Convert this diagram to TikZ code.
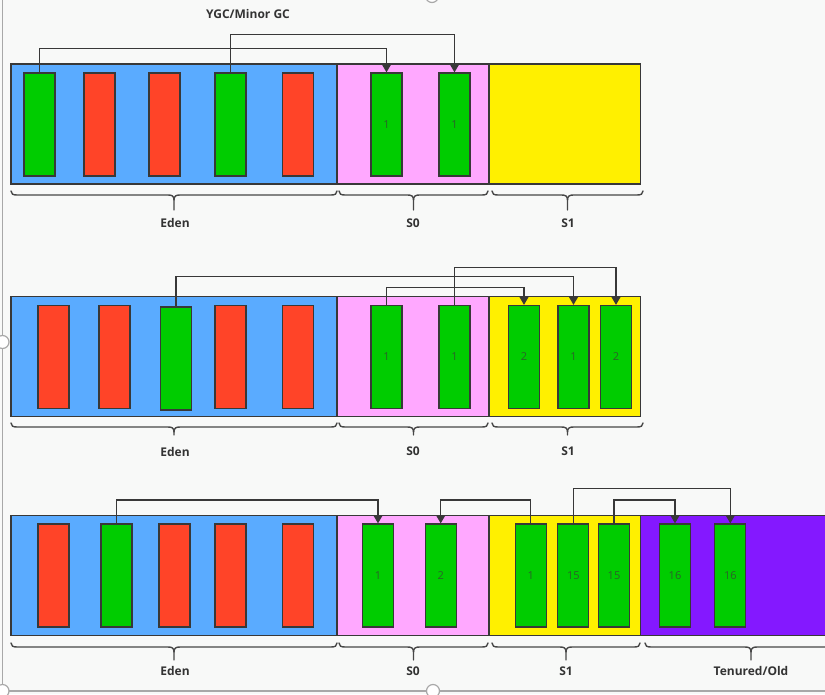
\documentclass[tikz,border=0pt]{standalone}
\usepackage{fontspec}
\setmainfont{Open Sans}
\usetikzlibrary{arrows.meta}
\definecolor{bg}{HTML}{F8F9F8}
\definecolor{edenc}{HTML}{5AABFF}
\definecolor{s0c}{HTML}{FFA8FF}
\definecolor{s1c}{HTML}{FFF000}
\definecolor{oldc}{HTML}{8418FF}
\definecolor{livec}{HTML}{00CC00}
\definecolor{deadc}{HTML}{FF4428}
\definecolor{edgec}{HTML}{383838}
\definecolor{numc}{HTML}{2A6328}
\definecolor{framec}{HTML}{A8A8A8}
\definecolor{lblc}{HTML}{333333}
\newcommand\gcbrace[4]{%
\draw[brc] (#1,#3) .. controls (#1,{#3+3}) and ({#1+2},{#3+4}) .. ({#1+6},{#3+4})
 -- ({(#1+#2)/2-6},{#3+4}) .. controls ({(#1+#2)/2-2},{#3+4}) and ({(#1+#2)/2},{#3+5}) .. ({(#1+#2)/2},{#3+9}) -- ({(#1+#2)/2},{#3+#4});
\draw[brc] (#2,#3) .. controls (#2,{#3+3}) and ({#2-2},{#3+4}) .. ({#2-6},{#3+4})
 -- ({(#1+#2)/2+6},{#3+4}) .. controls ({(#1+#2)/2+2},{#3+4}) and ({(#1+#2)/2},{#3+5}) .. ({(#1+#2)/2},{#3+9});}
\begin{document}
\begin{tikzpicture}[x=1pt,y=-1pt,
  obj/.style={draw=edgec, line width=1.3pt, minimum width=31pt, minimum height=103pt, inner sep=0pt, text=numc, font=\fontsize{11}{13}\selectfont},
  live/.style={obj, fill=livec},
  dead/.style={obj, fill=deadc},
  region/.style={draw=edgec, line width=1.3pt},
  mv/.style={draw=edgec, line width=1.3pt, -{Triangle[length=8pt,width=9pt]}},
  brc/.style={draw=lblc!90, line width=1.4pt, line cap=round},
  lbl/.style={text=lblc, font=\bfseries\fontsize{12}{14}\selectfont, inner sep=0pt}]
\path[use as bounding box, fill=bg] (0,0) rectangle (825,694);
% frame of the screenshot
\draw[framec, line width=1.2pt] (2.5,-5) -- (2.5,691) -- (830,691);
\foreach \p in {(2.5,342),(433,691),(432,-4),(2.5,691)}
  \draw[framec, fill=white, line width=1.2pt] \p circle (6.5);
% title
\node[lbl] (title) at (248,14) {YGC/Minor GC};
% ---------- row 1 ----------
\fill[edenc] (11,64) rectangle (337,184);
\fill[s0c] (337,64) rectangle (489,184);
\fill[s1c] (489,64) rectangle (640.5,184);
\draw[region] (11,64) rectangle (337,184);
\draw[region] (337,64) rectangle (489,184);
\draw[region] (489,64) rectangle (640.5,184);
\node[live] (a1) at (39.5,124.5) {};
\node[dead] (a2) at (99.5,124.5) {};
\node[dead] (a3) at (164.5,124.5) {};
\node[live] (a4) at (230.5,124.5) {};
\node[dead] (a5) at (298,124.5) {};
\node[live] (a6) at (386.5,124.5) {1};
\node[live] (a7) at (454.5,124.5) {1};
\draw[mv] (a1.north) -- ++(0,-24) -| (a6.north);
\draw[mv] (a4.north) -- ++(0,-38) -| (a7.north);
\gcbrace{11}{337}{191}{19}
\gcbrace{339}{488}{191}{19}
\gcbrace{492}{643}{191}{19}
\node[lbl] (l1a) at (175,223) {Eden};
\node[lbl] (l1b) at (413,223) {S0};
\node[lbl] (l1c) at (568,223) {S1};
% ---------- row 2 ----------
\fill[edenc] (11,296.7) rectangle (337,416.7);
\fill[s0c] (337,296.7) rectangle (489,416.7);
\fill[s1c] (489,296.7) rectangle (640.5,416.7);
\draw[region] (11,296.7) rectangle (337,416.7);
\draw[region] (337,296.7) rectangle (489,416.7);
\draw[region] (489,296.7) rectangle (640.5,416.7);
\node[dead] (b1) at (53.5,357) {};
\node[dead] (b2) at (114.5,357) {};
\node[live] (b3) at (176,358.5) {};
\node[dead] (b4) at (230.5,357) {};
\node[dead] (b5) at (298,357) {};
\node[live] (b6) at (386.5,357) {1};
\node[live] (b7) at (454.5,357) {1};
\node[live] (b8) at (524,357) {2};
\node[live] (b9) at (573.5,357) {1};
\node[live] (b10) at (616,357) {2};
\draw[mv] (b3.north) -- ++(0,-30) -| (b9.north);
\draw[mv] (b6.north) -- ++(0,-17.5) -| (b8.north);
\draw[mv] (b7.north) -- ++(0,-37.5) -| (b10.north);
\gcbrace{11}{337}{423}{12}
\gcbrace{339}{488}{423}{12}
\gcbrace{492}{643}{423}{12}
\node[lbl] (l2a) at (175,451.5) {Eden};
\node[lbl] (l2b) at (413,451.5) {S0};
\node[lbl] (l2c) at (568,451.5) {S1};
% ---------- row 3 ----------
\fill[edenc] (11,515.5) rectangle (337,635.7);
\fill[s0c] (337,515.5) rectangle (489,635.7);
\fill[s1c] (489,515.5) rectangle (640.5,635.7);
\fill[oldc] (640.5,515.5) rectangle (830,635.7);
\draw[region] (11,515.5) rectangle (337,635.7);
\draw[region] (337,515.5) rectangle (489,635.7);
\draw[region] (489,515.5) rectangle (640.5,635.7);
\draw[region] (830,515.5) -- (640.5,515.5) -- (640.5,635.7) -- (830,635.7);
\node[dead] (c1) at (53.5,575.5) {};
\node[live] (c2) at (116.5,575.5) {};
\node[dead] (c3) at (174.5,575.5) {};
\node[dead] (c4) at (230.5,575.5) {};
\node[dead] (c5) at (298,575.5) {};
\node[live] (c6) at (378,575.5) {1};
\node[live] (c7) at (440.7,575.5) {2};
\node[live] (c8) at (530.7,575.5) {1};
\node[live] (c9) at (573.3,575.5) {15};
\node[live] (c10) at (614,575.5) {15};
\node[live] (c11) at (675,575.5) {16};
\node[live] (c12) at (730.3,575.5) {16};
\draw[mv] (c2.north) -- ++(0,-23.5) -| (c6.north);
\draw[mv] (c8.north) -- ++(0,-23.5) -| (c7.north);
\draw[mv] (c9.north) -- ++(0,-35) -| (c12.north);
\draw[mv] (c10.north) -- ++(0,-23.5) -| (c11.north);
\gcbrace{11}{337}{643}{17}
\gcbrace{339}{488}{643}{17}
\gcbrace{492}{640}{643}{17}
\gcbrace{645}{857}{643}{17}
\node[lbl] (l3a) at (175,671) {Eden};
\node[lbl] (l3b) at (413,671) {S0};
\node[lbl] (l3c) at (566,671) {S1};
\node[lbl] (l3d) at (751,671) {Tenured/Old};
\end{tikzpicture}
\end{document}
